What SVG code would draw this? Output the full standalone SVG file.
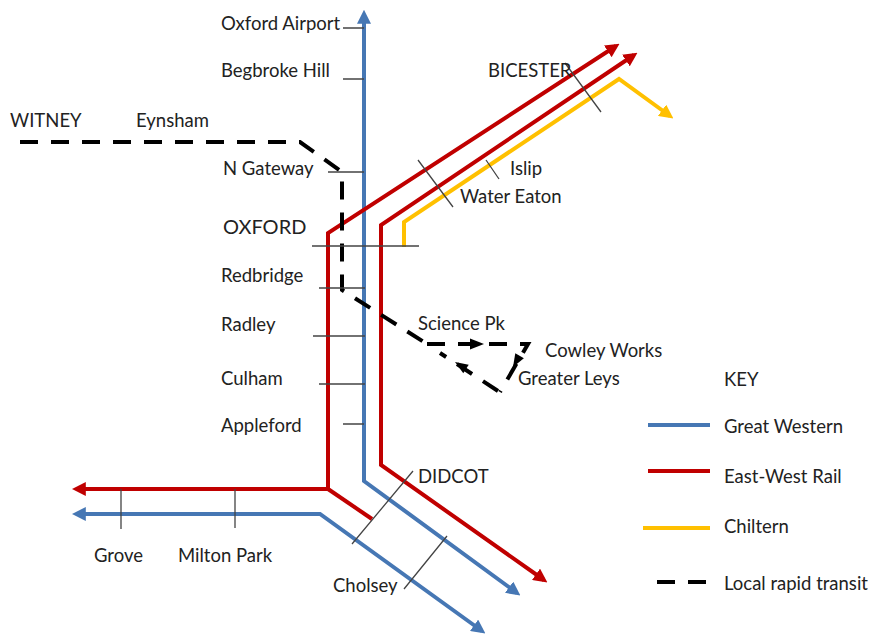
<svg xmlns="http://www.w3.org/2000/svg" width="885" height="642" viewBox="0 0 885 642">
<style>
  .t{font-family:Lato,"Liberation Sans",sans-serif;font-size:18.5px;fill:#222}
  .big{font-size:20px}
  .ln{fill:none;stroke-width:4;stroke-linejoin:miter}
  .gw{stroke:#4677b4}
  .ew{stroke:#c00000}
  .ch{stroke:#ffc000}
  .tr{fill:none;stroke:#000;stroke-width:4;stroke-dasharray:18 13}
  .tk{stroke:#444;stroke-width:1.3;fill:none}
</style>
<defs>
  <marker id="aB" viewBox="0 0 10 10" refX="7" refY="5" markerUnits="userSpaceOnUse" markerWidth="14" markerHeight="14" orient="auto-start-reverse"><path d="M0,0 L10,5 L0,10 z" fill="#4677b4"/></marker>
  <marker id="aR" viewBox="0 0 10 10" refX="7" refY="5" markerUnits="userSpaceOnUse" markerWidth="14" markerHeight="14" orient="auto-start-reverse"><path d="M0,0 L10,5 L0,10 z" fill="#c00000"/></marker>
  <marker id="aY" viewBox="0 0 10 10" refX="7" refY="5" markerUnits="userSpaceOnUse" markerWidth="14" markerHeight="14" orient="auto-start-reverse"><path d="M0,0 L10,5 L0,10 z" fill="#ffc000"/></marker>
</defs>
<rect width="885" height="642" fill="#fff"/>
<g id="connectors">
  <!-- Great Western -->
  <path class="ln gw" d="M364,14 L364,481 L517,593" marker-start="url(#aB)" marker-end="url(#aB)"/>
  <path class="ln gw" d="M76,514 L320,514 L482,631" marker-start="url(#aB)" marker-end="url(#aB)"/>
  <!-- East-West Rail -->
  <path class="ln ew" d="M76,489 L328,489 L328,233 L616,46" marker-start="url(#aR)" marker-end="url(#aR)"/>
  <path class="ln ew" d="M328,489 L372,519"/>
  <path class="ln ew" d="M634,55 L381,225 L381,465 L544,580" marker-start="url(#aR)" marker-end="url(#aR)"/>
  <!-- Chiltern -->
  <path class="ln ch" d="M404,247 L404,222 L619,79 L670,116" marker-end="url(#aY)"/>
  <!-- Local rapid transit -->
  <path class="tr" d="M20,142 L300,142 L342,172 L342,290 L427,344"/>
  <path class="tr" d="M427,344 L528,344 L500,392"/>
  <path class="tr" d="M498,391 L440,353"/>
  <polygon points="484,344 470,338.5 470,349.5" fill="#000"/>
  <polygon points="513,367 523.9,358.3 515.3,353.3" fill="#000"/>
  <polygon points="455,362 468.7,364.8 463.3,373.2" fill="#000"/>
  <!-- station ticks -->
  <path class="tk" d="M343,28 H364 M343,79 H364 M328,172 H364 M312,246 H419 M319,288 H365 M313,336 H365 M319,384 H365 M343,424 H364"/>
  <path class="tk" d="M121,489 V529 M235,489 V528"/>
  <path class="tk" d="M413,471 L352,544 M447,536 L404,589"/>
  <path class="tk" d="M418,160 L453,207 M486,160 L499,179 M565,63 L601,112"/>
</g>
<g id="n-oxford-airport"><text class="t" x="221" y="30">Oxford Airport</text></g>
<g id="n-begbroke"><text class="t" x="221" y="77">Begbroke Hill</text></g>
<g id="n-witney"><text class="t" x="10" y="127">WITNEY</text></g>
<g id="n-eynsham"><text class="t" x="136" y="127">Eynsham</text></g>
<g id="n-ngateway"><text class="t" x="223" y="175">N Gateway</text></g>
<g id="n-oxford"><text class="t big" x="223" y="234">OXFORD</text></g>
<g id="n-redbridge"><text class="t" x="221" y="282">Redbridge</text></g>
<g id="n-radley"><text class="t" x="221" y="331">Radley</text></g>
<g id="n-culham"><text class="t" x="221" y="385">Culham</text></g>
<g id="n-appleford"><text class="t" x="221" y="432">Appleford</text></g>
<g id="n-bicester"><text class="t" x="488" y="77">BICESTER</text></g>
<g id="n-islip"><text class="t" x="510" y="175">Islip</text></g>
<g id="n-watereaton"><text class="t" x="460" y="203">Water Eaton</text></g>
<g id="n-sciencepk"><text class="t" x="418" y="330">Science Pk</text></g>
<g id="n-cowley"><text class="t" x="545" y="357">Cowley Works</text></g>
<g id="n-greaterleys"><text class="t" x="518" y="385">Greater Leys</text></g>
<g id="n-didcot"><text class="t" x="418" y="483">DIDCOT</text></g>
<g id="n-cholsey"><text class="t" x="333" y="592">Cholsey</text></g>
<g id="n-grove"><text class="t" x="94" y="562">Grove</text></g>
<g id="n-miltonpark"><text class="t" x="178" y="562">Milton Park</text></g>
<g id="key">
  <text class="t" x="724" y="386">KEY</text>
  <line class="ln gw" x1="648" y1="425" x2="710" y2="425"/>
  <text class="t" x="724" y="433">Great Western</text>
  <line class="ln ew" x1="648" y1="471" x2="710" y2="471"/>
  <text class="t" x="724" y="483">East-West Rail</text>
  <line class="ln ch" x1="643" y1="528" x2="710" y2="528"/>
  <text class="t" x="724" y="533">Chiltern</text>
  <line stroke="#000" stroke-width="4" stroke-dasharray="18 13" x1="657" y1="582" x2="706" y2="582"/>
  <text class="t" x="724" y="590">Local rapid transit</text>
</g>
</svg>
